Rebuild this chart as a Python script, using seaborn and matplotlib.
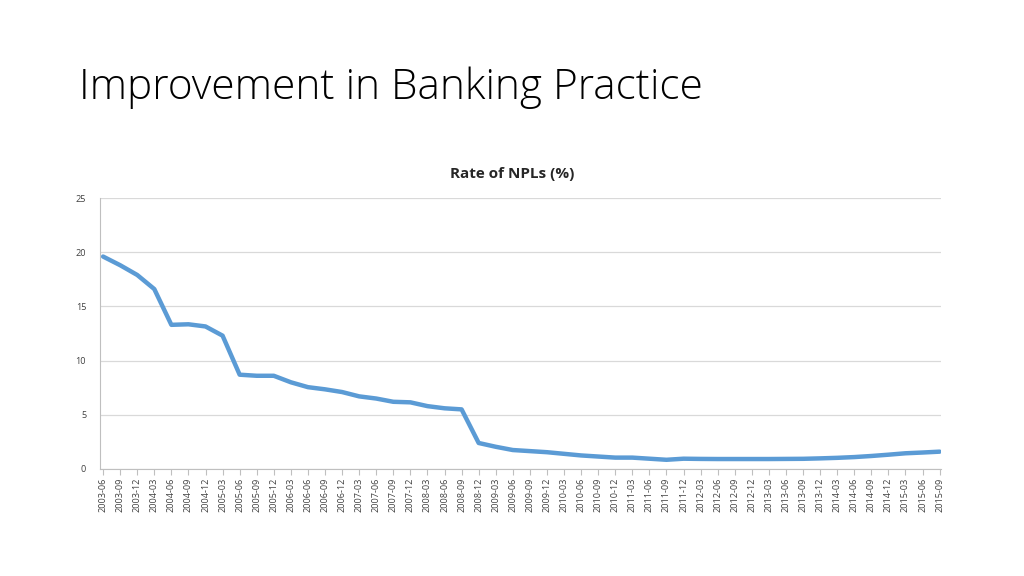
import pandas as pd
import matplotlib.pyplot as plt
import seaborn as sns

# quarterly periods 2003-06 .. 2015-09
quarters = ['2003-06', '2003-09', '2003-12',
            '2004-03', '2004-06', '2004-09', '2004-12',
            '2005-03', '2005-06', '2005-09', '2005-12',
            '2006-03', '2006-06', '2006-09', '2006-12',
            '2007-03', '2007-06', '2007-09', '2007-12',
            '2008-03', '2008-06', '2008-09', '2008-12',
            '2009-03', '2009-06', '2009-09', '2009-12',
            '2010-03', '2010-06', '2010-09', '2010-12',
            '2011-03', '2011-06', '2011-09', '2011-12',
            '2012-03', '2012-06', '2012-09', '2012-12',
            '2013-03', '2013-06', '2013-09', '2013-12',
            '2014-03', '2014-06', '2014-09', '2014-12',
            '2015-03', '2015-06', '2015-09']

npl_rate = [19.6, 18.8, 17.9,
            16.6, 13.3, 13.35, 13.15,
            12.3, 8.7, 8.6, 8.6,
            8.0, 7.55, 7.35, 7.1,
            6.7, 6.5, 6.2, 6.15,
            5.8, 5.6, 5.5, 2.4,
            2.05, 1.75, 1.65, 1.55,
            1.4, 1.25, 1.15, 1.05,
            1.05, 0.95, 0.85, 0.95,
            0.93, 0.92, 0.92, 0.92,
            0.92, 0.93, 0.94, 0.98,
            1.03, 1.1, 1.2, 1.32,
            1.45, 1.52, 1.6]

df = pd.DataFrame({'Quarter': quarters, 'NPL': npl_rate})
df['idx'] = range(len(df))

sns.set_style("white")
plt.rcParams['font.family'] = ['Open Sans', 'DejaVu Sans']

fig = plt.figure(figsize=(10.24, 5.76), dpi=100)
ax = fig.add_axes([100 / 1024, 1 - 469 / 576, 841 / 1024, 271 / 576])

sns.lineplot(data=df, x='idx', y='NPL', color='#5B9BD5', linewidth=3.2, ax=ax,
             solid_capstyle='round', solid_joinstyle='round')

ax.set_xlim(-0.18, len(df) - 1 + 0.08)
ax.set_ylim(0, 25)
ax.set_yticks([0, 5, 10, 15, 20, 25])
ax.set_xticks(df['idx'])
ax.set_xticklabels(df['Quarter'], rotation=90)
ax.tick_params(axis='x', labelsize=6.6, colors='#404040', length=4, width=0.8,
               direction='out', bottom=True, color='#bfbfbf', pad=2)
ax.tick_params(axis='y', labelsize=6.6, colors='#404040', length=0, pad=10)
ax.grid(axis='y', color='#d9d9d9', linewidth=0.9)
ax.set_axisbelow(True)
for s in ['top', 'right']:
    ax.spines[s].set_visible(False)
ax.spines['left'].set_color('#bfbfbf')
ax.spines['bottom'].set_color('#bfbfbf')
ax.set_xlabel('')
ax.set_ylabel('')

fig.text(512 / 1024, 1 - 174 / 576, 'Rate of NPLs (%)', ha='center', va='center',
         fontsize=11, fontweight='bold', color='#262626')
fig.text(79 / 1024, 1 - 88 / 576, 'Improvement in Banking Practice', ha='left',
         va='center', fontsize=30.5, color='#000000', fontweight='light')

fig.savefig('out.png', dpi=100)
